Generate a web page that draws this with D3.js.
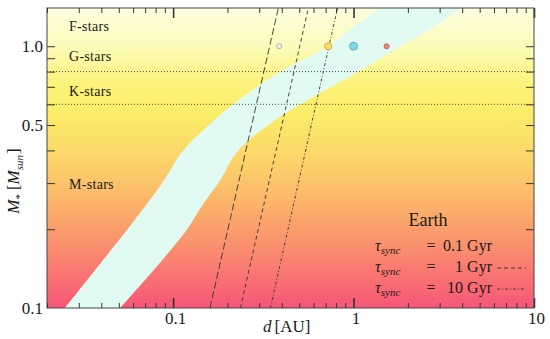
<!DOCTYPE html>
<html>
<head>
<meta charset="utf-8">
<script src="https://cdn.jsdelivr.net/npm/d3@7/dist/d3.min.js"></script>
<style>
  html, body { margin: 0; padding: 0; background: #fff; }
  svg { display: block; }
  text { font-family: "Liberation Serif", "Times New Roman", serif; fill: #1a1a1a; }
</style>
</head>
<body>
<svg id="chart" width="550" height="339"></svg>
<script>
// Habitable zone edges (AU) vs. stellar mass (solar masses)
const hzMass  = [0.1, 0.15, 0.2, 0.25, 0.3, 0.4, 0.5, 0.6, 0.8, 1.0, 1.2, 1.4];
const hzInner = [0.0251, 0.0401, 0.0559, 0.0717, 0.0869, 0.1137, 0.158, 0.215, 0.393, 0.718, 1.026, 1.41];
const hzOuter = [0.0508, 0.0853, 0.1197, 0.147, 0.178, 0.2296, 0.337, 0.508, 1.066, 1.82, 2.86, 3.93];

// Tidal synchronisation distance for an Earth, end points at M = 0.1 and 1.4
const syncTimes  = [0.1, 1, 10];           // Gyr
const syncMassEnds = [0.1, 1.4];
const syncDist = [[0.16, 0.383], [0.236, 0.562], [0.346, 0.815]];
const syncDash = ["7,3", "4,3", "3,2,1,2"];

// Solar system planets
const planetNames = ["Mercury", "Venus", "Earth", "Mars"];
const planetA     = [0.387, 0.723, 1.0, 1.524];
const planetMass  = [1.0, 1.0, 1.0, 1.0];
const planetR     = [2.5, 3.6, 4, 2.6];
const planetFill  = ["#f6f3f0", "#f8dc6c", "#84d6e6", "#e98a6c"];
const planetLine  = ["#9a9a9a", "#d9a23a", "#4fa5c4", "#c0604c"];

// Spectral classes
const classNames = ["F-stars", "G-stars", "K-stars", "M-stars"];
const classMass  = [1.185, 0.91, 0.669, 0.295];
const classBounds = [0.8, 0.6];

// Axis ticks
const xMajor = [0.1, 1, 10];
const xMinor = [0.02,0.03,0.04,0.05,0.06,0.07,0.08,0.09,0.2,0.3,0.4,0.5,0.6,0.7,0.8,0.9,2,3,4,5,6,7,8,9];
const xLabels = ["0.1", "1", "10"];
const yMinor = [0.2,0.3,0.4,0.5,0.6,0.7,0.8,0.9,1.0];
const yMajor = [0.1, 0.5, 1.0];
const yLabels = ["0.1", "0.5", "1.0"];

const m = {left: 47, right: 534, top: 8, bottom: 308};

const svg = d3.select("#chart");
const x = d3.scaleLog().domain([0.02, 10]).range([m.left, m.right]);
const y = d3.scaleLog().domain([0.1, 1.4]).range([m.bottom, m.top]);

// background: vertical colour ramp
const defs = svg.append("defs");
const grad = defs.append("linearGradient").attr("id", "bg")
  .attr("x1", 0).attr("y1", 0).attr("x2", 0).attr("y2", 1);
[[0, "#fefedf"], [0.12, "#fdfcbd"], [0.25, "#fcf37c"], [0.35, "#fbed68"],
 [0.5, "#fcd66a"], [0.65, "#fcb46a"], [0.8, "#fa8d6e"], [1, "#f75677"]]
  .forEach(([o, c]) => grad.append("stop").attr("offset", o).attr("stop-color", c));

defs.append("clipPath").attr("id", "plot")
  .append("rect").attr("x", m.left).attr("y", m.top)
  .attr("width", m.right - m.left).attr("height", m.bottom - m.top);

svg.append("rect").attr("x", m.left).attr("y", m.top)
  .attr("width", m.right - m.left).attr("height", m.bottom - m.top)
  .attr("fill", "url(#bg)");

const plot = svg.append("g").attr("clip-path", "url(#plot)");

// habitable zone band
const hz = hzMass.map((mm, i) => ({m: mm, a: hzInner[i], b: hzOuter[i]}));
plot.append("path").datum(hz)
  .attr("fill", "#e1fbf2")
  .attr("d", d3.area()
    .y(d => y(d.m)).x0(d => x(d.a)).x1(d => x(d.b))
    .curve(d3.curveCatmullRom.alpha(0.5)));

// class boundaries
plot.selectAll("line.bound").data(classBounds).join("line")
  .attr("x1", m.left).attr("x2", m.right)
  .attr("y1", d => y(d)).attr("y2", d => y(d))
  .attr("stroke", "#333").attr("stroke-width", 0.9)
  .attr("stroke-dasharray", "1,2");

// synchronisation lines
syncTimes.forEach((t, i) => {
  plot.append("line")
    .attr("x1", x(syncDist[i][0])).attr("y1", y(syncMassEnds[0]))
    .attr("x2", x(syncDist[i][1])).attr("y2", y(syncMassEnds[1]))
    .attr("stroke", "#333").attr("stroke-width", 0.9)
    .attr("stroke-dasharray", syncDash[i]);
});

// planets
plot.selectAll("circle.planet").data(planetNames).join("circle")
  .attr("cx", (d, i) => x(planetA[i])).attr("cy", (d, i) => y(planetMass[i]))
  .attr("r", (d, i) => planetR[i])
  .attr("fill", (d, i) => planetFill[i])
  .attr("stroke", (d, i) => planetLine[i]).attr("stroke-width", 0.8);

// spectral class labels
svg.selectAll("text.cls").data(classNames).join("text")
  .attr("x", 69).attr("y", (d, i) => y(classMass[i]) + 4)
  .attr("font-size", 14).attr("letter-spacing", 0.3)
  .text(d => d);

// axes: ticks pointing inwards on all four sides
function styleAxis(g) {
  g.select(".domain").remove();
  g.selectAll(".tick line").attr("stroke", "#333");
}
svg.append("g").attr("transform", `translate(0,${m.bottom})`)
  .call(d3.axisTop(x).tickValues(xMinor).tickSize(5).tickFormat("")).call(styleAxis);
svg.append("g").attr("transform", `translate(0,${m.bottom})`)
  .call(d3.axisTop(x).tickValues(xMajor).tickSize(10).tickFormat("")).call(styleAxis)
  .selectAll(".tick line").attr("stroke-width", 1.6);
svg.append("g").attr("transform", `translate(0,${m.top})`)
  .call(d3.axisBottom(x).tickValues(xMinor).tickSize(5).tickFormat("")).call(styleAxis);
svg.append("g").attr("transform", `translate(0,${m.top})`)
  .call(d3.axisBottom(x).tickValues(xMajor).tickSize(10).tickFormat("")).call(styleAxis)
  .selectAll(".tick line").attr("stroke-width", 1.6);

svg.append("g").attr("transform", `translate(${m.left},0)`)
  .call(d3.axisRight(y).tickValues(yMinor).tickSize(8).tickFormat("")).call(styleAxis);
svg.append("g").attr("transform", `translate(${m.right},0)`)
  .call(d3.axisLeft(y).tickValues(yMinor).tickSize(8).tickFormat("")).call(styleAxis);

// tick labels
const xl = svg.append("g").attr("transform", `translate(2,${m.bottom})`)
  .call(d3.axisBottom(x).tickValues(xMajor).tickSize(0).tickPadding(4)
    .tickFormat((d, i) => xLabels[i]));
xl.select(".domain").remove();
xl.selectAll("text").attr("font-size", 17).attr("fill", "#1a1a1a");

const yl = svg.append("g").attr("transform", `translate(${m.left - 3},0)`)
  .call(d3.axisLeft(y).tickValues(yMajor).tickSize(0).tickPadding(1)
    .tickFormat((d, i) => yLabels[i]));
yl.select(".domain").remove();
yl.selectAll("text").attr("font-size", 17).attr("fill", "#1a1a1a");

// frame
svg.append("rect").attr("x", m.left).attr("y", m.top)
  .attr("width", m.right - m.left).attr("height", m.bottom - m.top)
  .attr("fill", "none").attr("stroke", "#444").attr("stroke-width", 1);

// axis titles
const xt = svg.append("text").attr("x", 263).attr("y", 332).attr("font-size", 17);
xt.append("tspan").attr("font-style", "italic").text("d");
xt.append("tspan").attr("dx", 3).text("[AU]");

const yt = svg.append("text").attr("transform", "translate(19,181) rotate(-90)")
  .attr("text-anchor", "middle").attr("font-size", 17);
yt.append("tspan").attr("font-style", "italic").text("M");
yt.append("tspan").attr("font-size", 11).attr("dy", 4).text("*");
yt.append("tspan").attr("dy", -4).attr("dx", 4).text("[");
yt.append("tspan").attr("font-style", "italic").text("M");
yt.append("tspan").attr("font-style", "italic").attr("font-size", 11).attr("dy", 4).text("sun");
yt.append("tspan").attr("dy", -4).attr("dx", 1).text("]");

// legend
svg.append("text").attr("x", 428).attr("y", 226).attr("text-anchor", "middle")
  .attr("font-size", 18).text("Earth");
const legendY = [251, 272, 293];
const legendVals = ["0.1", "1", "10"];
syncTimes.forEach((t, i) => {
  const ly = legendY[i];
  const tt = svg.append("text").attr("x", 375).attr("y", ly).attr("font-size", 16);
  tt.append("tspan").attr("font-style", "italic").text("τ");
  tt.append("tspan").attr("font-style", "italic").attr("font-size", 11).attr("dy", 3).text("sync");
  svg.append("text").attr("x", 431).attr("y", ly).attr("text-anchor", "middle")
    .attr("font-size", 16).text("=");
  svg.append("text").attr("x", 492).attr("y", ly).attr("text-anchor", "end")
    .attr("font-size", 16).text(legendVals[i] + " Gyr");
  if (i > 0) {
    svg.append("line").attr("x1", 497).attr("x2", 526)
      .attr("y1", ly - 4).attr("y2", ly - 4)
      .attr("stroke", "#333").attr("stroke-width", 0.9)
      .attr("stroke-dasharray", syncDash[i]);
  }
});
</script>
</body>
</html>
